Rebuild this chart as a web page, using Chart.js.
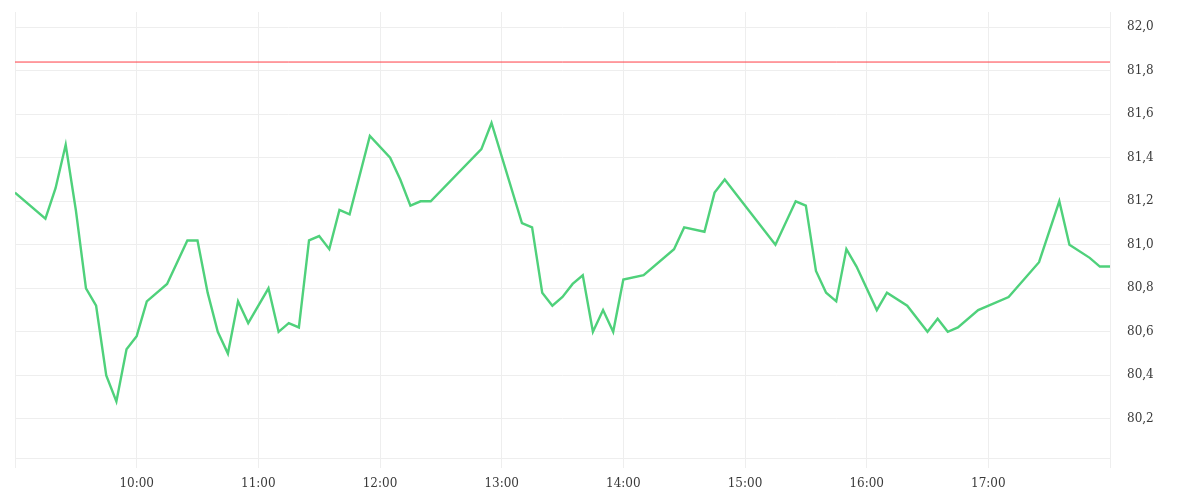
<!DOCTYPE html>
<html>
<head>
<meta charset="utf-8">
<script src="https://cdn.jsdelivr.net/npm/chart.js@4/dist/chart.umd.min.js"></script>
<style>
  html, body { margin: 0; padding: 0; background: #ffffff; }
  #wrap { width: 1200px; height: 500px; position: relative; }
</style>
</head>
<body>
<div id="wrap"><canvas id="c" width="1200" height="500"></canvas></div>
<script>
// ---- data ----
const times = ["09:00","09:15","09:20","09:25","09:30","09:35","09:40","09:45","09:50","09:55",
  "10:00","10:05","10:15","10:25","10:30","10:35","10:40","10:45","10:50","10:55",
  "11:05","11:10","11:15","11:20","11:25","11:30","11:35","11:40","11:45","11:55",
  "12:05","12:10","12:15","12:20","12:25","12:50","12:55",
  "13:10","13:15","13:20","13:25","13:30","13:35","13:40","13:45","13:50","13:55",
  "14:00","14:10","14:25","14:30","14:40","14:45","14:50",
  "15:15","15:25","15:30","15:35","15:40","15:45","15:50","15:55",
  "16:05","16:10","16:20","16:30","16:35","16:40","16:45","16:55",
  "17:10","17:25","17:35","17:40","17:50","17:55","18:00"];
const prices = [81.24,81.12,81.26,81.46,81.16,80.80,80.72,80.40,80.28,80.52,
  80.58,80.74,80.82,81.02,81.02,80.78,80.60,80.50,80.74,80.64,
  80.80,80.60,80.64,80.62,81.02,81.04,80.98,81.16,81.14,81.50,
  81.40,81.30,81.18,81.20,81.20,81.44,81.56,
  81.10,81.08,80.78,80.72,80.76,80.82,80.86,80.60,80.70,80.60,
  80.84,80.86,80.98,81.08,81.06,81.24,81.30,
  81.00,81.20,81.18,80.88,80.78,80.74,80.98,80.90,
  80.70,80.78,80.72,80.60,80.66,80.60,80.62,80.70,
  80.76,80.92,81.20,81.00,80.94,80.90,80.90];
const limitValue = 81.84;
const sessionStart = "09:00";
const sessionEnd = "18:00";
const yTickValues = [80.2,80.4,80.6,80.8,81.0,81.2,81.4,81.6,81.8,82.0];
const yMin = 80.02, yMax = 82.07;

// ---- helpers ----
const toMin = s => { const [h,m] = s.split(':').map(Number); return h*60+m; };
const fmtTime = v => { const h = Math.floor(v/60), m = Math.round(v%60); return String(h).padStart(2,'0')+':'+String(m).padStart(2,'0'); };
const xMin = toMin(sessionStart), xMax = toMin(sessionEnd);

const lineData = times.map((t,i) => ({x: toMin(t), y: prices[i]}));
const limitData = [{x: xMin, y: limitValue}, {x: xMax, y: limitValue}];

const gridColor = '#eeeeee';
const font = { family: '"DejaVu Serif", serif', size: 12 };

new Chart(document.getElementById('c'), {
  type: 'line',
  data: {
    datasets: [
      { data: limitData, borderColor: '#ff3d45', borderWidth: 1, pointRadius: 0, fill: false, order: 2 },
      { data: lineData, borderColor: '#4fd17b', borderWidth: 2.4, pointRadius: 0, fill: false, tension: 0, order: 1 }
    ]
  },
  options: {
    responsive: false,
    animation: false,
    devicePixelRatio: 1,
    layout: { padding: { left: 15, top: 12, right: 0, bottom: 0 } },
    plugins: { legend: { display: false }, tooltip: { enabled: false } },
    scales: {
      x: {
        type: 'linear',
        min: xMin, max: xMax,
        ticks: {
          stepSize: 60,
          padding: 9,
          color: '#3a3a3a',
          font: font,
          maxRotation: 0,
          autoSkip: false,
          callback: (v) => (v === xMin || v === xMax) ? '' : fmtTime(v)
        },
        grid: { color: gridColor, tickLength: 10, drawTicks: true },
        border: { color: gridColor },
        afterFit: (s) => { s.height = 42; s.paddingLeft = 0; s.paddingRight = 0; }
      },
      y: {
        position: 'right',
        min: yMin, max: yMax,
        afterBuildTicks: (s) => { s.ticks = yTickValues.map(v => ({value: v})); },
        ticks: {
          padding: 17,
          color: '#3a3a3a',
          font: font,
          callback: (v) => Number(v).toFixed(1).replace('.', ',')
        },
        grid: { color: gridColor, drawTicks: false },
        border: { color: gridColor },
        afterFit: (s) => { s.width = 90; s.paddingTop = 0; s.paddingBottom = 0; }
      }
    }
  }
});
</script>
</body>
</html>
